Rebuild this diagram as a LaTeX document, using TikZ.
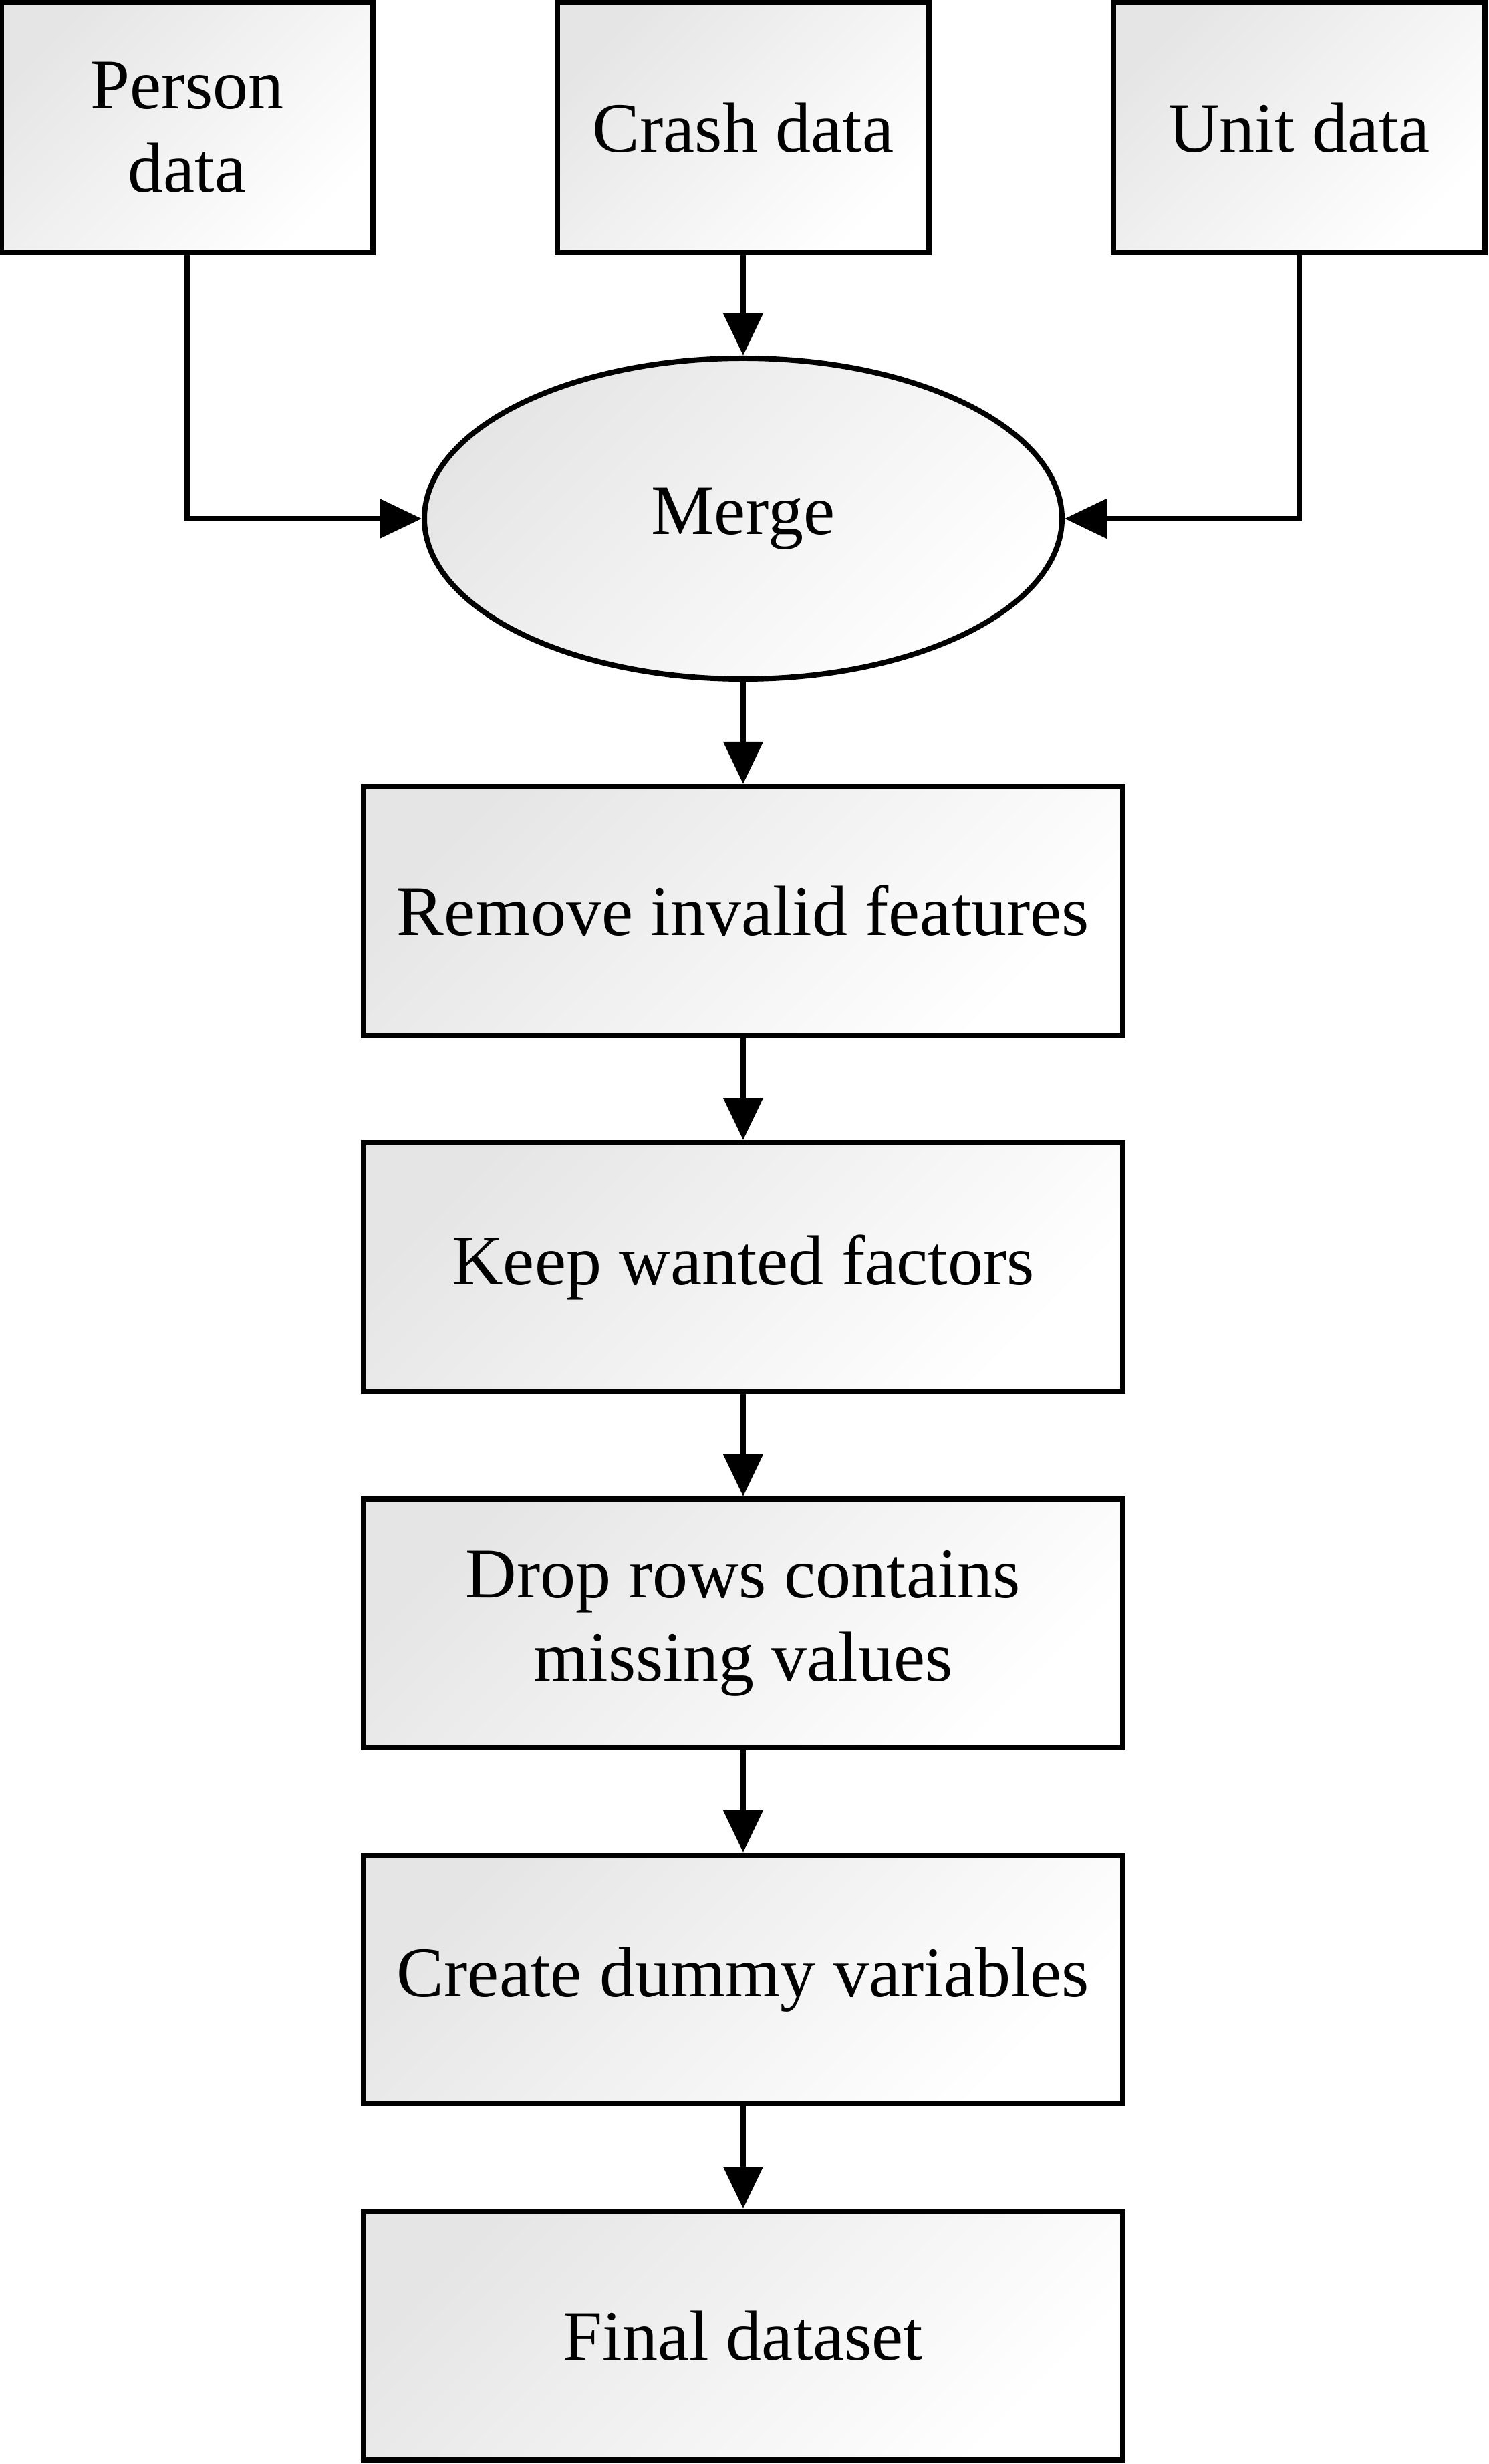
\documentclass[tikz,border=0pt]{standalone}
\usepackage{fontspec}
\setmainfont{Liberation Serif}
\usetikzlibrary{positioning,shapes.geometric,arrows.meta}

\begin{document}
\begin{tikzpicture}[node distance={15.3pt}, line width=0.8pt,
	>={Triangle[length=6.3pt,width=5.8pt]},
	shade/.style = {top color=black!10, bottom color=white, shading angle=45},
	src/.style = {draw, shade, minimum width=55.6pt, minimum height=37.4pt, align=center,
		font=\fontsize{10.6}{12.5}\selectfont},
	proc/.style = {draw, shade, minimum width=113.6pt, minimum height=37.2pt, align=center,
		font=\fontsize{10.6}{12.5}\selectfont},
	oval/.style = {draw, ellipse, shade, minimum width=95.4pt, minimum height=48pt,
		font=\fontsize{10.6}{12.5}\selectfont}]
\useasboundingbox (-111.2pt,19.1pt) rectangle (111.5pt,-349.6pt);
\node[src] (crash) at (0,0) {Crash data};
\node[src] (person) [left=26.8pt of crash] {Person\\data};
\node[src] (unit) [right=26.8pt of crash] {Unit data};
\node[oval] (merge) [below=15pt of crash] {Merge};
\node[proc] (remove) [below=15.3pt of merge] {Remove invalid features};
\node[proc] (keep) [below=of remove] {Keep wanted factors};
\node[proc] (drop) [below=of keep] {Drop rows contains\\missing values};
\node[proc] (dummy) [below=of drop] {Create dummy variables};
\node[proc] (final) [below=of dummy] {Final dataset};
\draw[->] (crash) -- (merge);
\draw[->] (person.south) |- (merge.west);
\draw[->] (unit.south) |- (merge.east);
\draw[->] (merge) -- (remove);
\draw[->] (remove) -- (keep);
\draw[->] (keep) -- (drop);
\draw[->] (drop) -- (dummy);
\draw[->] (dummy) -- (final);
\end{tikzpicture}
\end{document}
